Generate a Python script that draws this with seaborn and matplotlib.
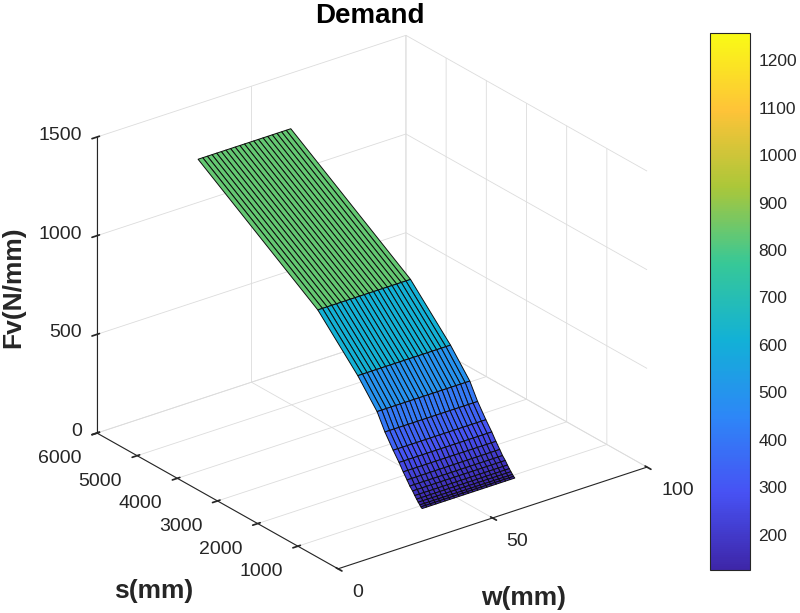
import numpy as np
import pandas as pd
import matplotlib
matplotlib.use("Agg")
import matplotlib.pyplot as plt
import seaborn as sns
from matplotlib.colors import Normalize
from matplotlib.cm import ScalarMappable
from mpl_toolkits.mplot3d import proj3d

# ---------------- data ----------------
w_values = [30.0, 31.5, 33.0, 34.5, 36.0, 37.5, 39.0, 40.5, 42.0, 43.5, 45.0,
            46.5, 48.0, 49.5, 51.0, 52.5, 54.0, 55.5, 57.0, 58.5, 60.0]
s_values = [215, 245, 272, 312, 352, 398, 452, 520, 590, 685, 788,
            935, 1140, 1335, 1815, 2810, 5790]
fv_values = [126, 131, 138, 147, 158, 171, 188, 205, 228, 258, 294,
             339, 408, 489, 616, 835, 1257]

w_ticks = [0, 50, 100]
s_ticks = [1000, 2000, 3000, 4000, 5000, 6000]
fv_ticks = [0, 500, 1000, 1500]
cbar_ticks = [200, 300, 400, 500, 600, 700, 800, 900, 1000, 1100, 1200]

# parula-like anchors
parula_anchors = ["#3E26A8", "#4752F4", "#2D87F7", "#12B1D6",
                  "#37C897", "#ABC739", "#FEC338", "#F9FB15"]

# ---------------- style ----------------
sns.set_theme(style="white")
plt.rcParams["font.family"] = ["Liberation Sans", "DejaVu Sans"]
plt.rcParams["grid.color"] = "#DCDCDC"
plt.rcParams["grid.linewidth"] = 0.6
TXT = "#262626"

cmap = sns.blend_palette(parula_anchors, as_cmap=True)
norm = Normalize(min(fv_values), max(fv_values))

df = pd.DataFrame([(s, w, fv) for s, fv in zip(s_values, fv_values) for w in w_values],
                  columns=["s", "w", "Fv"])
grid = df.pivot(index="s", columns="w", values="Fv")
W, S = np.meshgrid(grid.columns.values, grid.index.values)
Z = grid.values

FW, FH = 800, 613
fig = plt.figure(figsize=(FW / 100, FH / 100), dpi=100)
fig.patch.set_facecolor("white")
ax = fig.add_axes([0.05, 0.05, 0.8, 0.8], projection="3d")
ax.set_proj_type("ortho")
ax.view_init(elev=25.5, azim=-127.4)
ax.set_box_aspect((389, 397, 328))

ax.plot_surface(W, S, Z, facecolors=cmap(norm(Z)), edgecolor="#0d0d0d",
                linewidth=0.7, shade=False, rstride=1, cstride=1, antialiased=True)

ax.set_xlim(0, 100)
ax.set_ylim(0, 6000)
ax.set_zlim(0, 1500)
ax.set_xticks(w_ticks)
ax.set_yticks(s_ticks)
ax.set_zticks(fv_ticks)
ax.set_xticklabels([""] * len(w_ticks))
ax.set_yticklabels([""] * len(s_ticks))
ax.set_zticklabels([""] * len(fv_ticks))
ax.tick_params(colors=TXT)
for axis in (ax.xaxis, ax.yaxis, ax.zaxis):
    axis.set_pane_color((1, 1, 1, 0))
    axis.pane.set_edgecolor("#DCDCDC")
    axis.line.set_color(TXT)
    axis.line.set_linewidth(0.8)
ax.grid(True)


def to_pixels(pts):
    pts = np.asarray(pts, float)
    M = ax.get_proj()
    px, py, _ = proj3d.proj_transform(pts[:, 0], pts[:, 1], pts[:, 2], M)
    return ax.transData.transform(np.column_stack([px, py]))


# ---- fit the projected box onto the reference layout ----
fig.canvas.draw()
corners = [[0, 6000, 0], [100, 0, 0], [0, 0, 0], [0, 6000, 1500]]
targets = np.array([[97, 433], [647, 467], [338, 569], [97, 137]], float)
targets[:, 1] = FH - targets[:, 1]
disp = to_pixels(corners)
bb = ax.get_position()
L0, B0, S0 = bb.x0 * FW, bb.y0 * FH, bb.width * FW
u = (disp - [L0, B0]) / S0
A, b = [], []
for (ux, uy), (tx, ty) in zip(u, targets):
    A.append([1, 0, ux]); b.append(tx)
    A.append([0, 1, uy]); b.append(ty)
L1, B1, S1 = np.linalg.lstsq(np.array(A), np.array(b), rcond=None)[0]
ax.set_position([L1 / FW, B1 / FH, S1 / FW, S1 / FH])
fig.canvas.draw()

# ---- tick labels placed at the projected tick positions ----
def put_labels(points, labels, dx, dy, ha):
    for (x, y), lab in zip(to_pixels(points), labels):
        fig.text((x + dx) / FW, (y + dy) / FH, lab, ha=ha, va="baseline",
                 fontsize=14, color=TXT)

put_labels([[0, 6000, v] for v in fv_ticks], [str(v) for v in fv_ticks], -15, -3, "right")
put_labels([[0, v, 0] for v in s_ticks], [str(v) for v in s_ticks], -15, -30, "right")
put_labels([[v, 0, 0] for v in w_ticks], [str(v) for v in w_ticks], 14, -28, "left")

# ---- colorbar ----
cax = fig.add_axes([710 / FW, (FH - 570) / FH, 40 / FW, 537 / FH])
cb = fig.colorbar(ScalarMappable(norm=norm, cmap=cmap), cax=cax, ticks=cbar_ticks)
cb.outline.set_edgecolor(TXT)
cb.outline.set_linewidth(0.8)
cax.tick_params(direction="in", length=5, width=0.8, colors=TXT, labelsize=12.5,
                right=True, left=False, pad=6)

# ---- texts ----
fig.text(370 / FW, 1 - 23 / FH, "Demand", ha="center", va="baseline",
         fontsize=20, fontweight="bold", color="black")
fig.text(154 / FW, 1 - 598 / FH, "s(mm)", ha="center", va="baseline",
         fontsize=19, fontweight="bold", color=TXT)
fig.text(524 / FW, 1 - 605 / FH, "w(mm)", ha="center", va="baseline",
         fontsize=19, fontweight="bold", color=TXT)
fig.text(13 / FW, 1 - 287 / FH, "Fv(N/mm)", ha="center", va="center", rotation=90,
         fontsize=19, fontweight="bold", color=TXT)

fig.savefig("out.png", dpi=100, facecolor="white")
